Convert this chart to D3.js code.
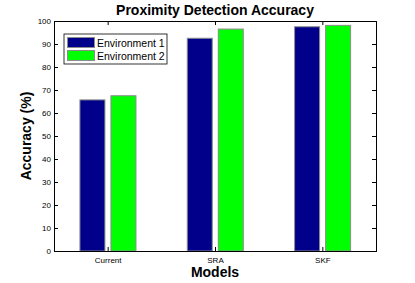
<!DOCTYPE html>
<html>
<head>
<meta charset="utf-8">
<script src="https://d3js.org/d3.v7.min.js"></script>
<style>
  body { margin: 0; background: #fff; }
  text { font-family: "Liberation Sans", Arial, sans-serif; }
</style>
</head>
<body>
<div id="chart"></div>
<script>
var svgWidth = 415;
var svgHeight = 283;

var margin = { top: 21, right: 39, bottom: 32, left: 54 };
var chartWidth = svgWidth - margin.left - margin.right;
var chartHeight = svgHeight - margin.top - margin.bottom;

// data
var models = ["Current", "SRA", "SKF"];
var seriesNames = ["Environment 1", "Environment 2"];
var env1 = [65.7, 92.5, 97.5];
var env2 = [67.5, 96.5, 98.1];
var yTicks = [0, 10, 20, 30, 40, 50, 60, 70, 80, 90, 100];
var colors = ["#00008b", "#00ff00"];

var svg = d3.select("#chart")
  .append("svg")
  .attr("width", svgWidth)
  .attr("height", svgHeight);

var chartGroup = svg.append("g")
  .attr("transform", `translate(${margin.left}, ${margin.top})`);

var xScale = d3.scaleLinear()
  .domain([0.5, models.length + 0.5])
  .range([0, chartWidth]);

var yScale = d3.scaleLinear()
  .domain([0, 100])
  .range([chartHeight, 0]);

// bars
var barW = 0.233;
var offsets = [-0.142, 0.147];
[env1, env2].forEach(function(vals, s) {
  chartGroup.append("g")
    .selectAll("rect")
    .data(vals)
    .enter()
    .append("rect")
    .attr("x", (d, i) => xScale(i + 1 + offsets[s] - barW / 2))
    .attr("y", d => yScale(d))
    .attr("width", xScale(barW) - xScale(0))
    .attr("height", d => chartHeight - yScale(d))
    .attr("fill", colors[s])
    .attr("stroke", "#8c8c8c")
    .attr("stroke-width", 1);
});

// axes, matlab style box with inward ticks
var leftAxis = d3.axisLeft(yScale).tickValues(yTicks).tickSize(-4).tickPadding(3);
var rightAxis = d3.axisRight(yScale).tickValues(yTicks).tickSize(-4).tickFormat("");
var bottomAxis = d3.axisBottom(xScale).tickValues([1, 2, 3]).tickSize(-4).tickPadding(6)
  .tickFormat(d => models[d - 1]);
var topAxis = d3.axisTop(xScale).tickValues([1, 2, 3]).tickSize(-4).tickFormat("");

var yAxis = chartGroup.append("g").call(leftAxis);
chartGroup.append("g").attr("transform", `translate(${chartWidth}, 0)`).call(rightAxis);
var xAxis = chartGroup.append("g").attr("transform", `translate(0, ${chartHeight})`).call(bottomAxis);
chartGroup.append("g").call(topAxis);

chartGroup.selectAll(".domain").attr("stroke", "#000");
chartGroup.selectAll(".tick line").attr("stroke", "#000");
chartGroup.selectAll(".tick text").attr("font-size", 8).attr("fill", "#000")
  .attr("font-family", "'Liberation Sans', Arial, sans-serif");

// titles
svg.append("text")
  .attr("x", margin.left + chartWidth / 2)
  .attr("y", 15)
  .attr("text-anchor", "middle")
  .attr("font-size", 14)
  .attr("font-weight", "bold")
  .text("Proximity Detection Accuracy");

svg.append("text")
  .attr("x", margin.left + chartWidth / 2)
  .attr("y", 277)
  .attr("text-anchor", "middle")
  .attr("font-size", 14)
  .attr("font-weight", "bold")
  .text("Models");

svg.append("text")
  .attr("transform", `translate(31, ${margin.top + chartHeight / 2}) rotate(-90)`)
  .attr("text-anchor", "middle")
  .attr("font-size", 14)
  .attr("font-weight", "bold")
  .text("Accuracy (%)");

// legend
var legend = svg.append("g").attr("transform", "translate(64, 34)");
legend.append("rect")
  .attr("width", 103)
  .attr("height", 30)
  .attr("fill", "#fff")
  .attr("stroke", "#000")
  .attr("stroke-width", 0.8);

seriesNames.forEach(function(name, i) {
  legend.append("rect")
    .attr("x", 3.5)
    .attr("y", 3.5 + i * 13)
    .attr("width", 27)
    .attr("height", 10)
    .attr("fill", colors[i])
    .attr("stroke", "#8c8c8c");
  legend.append("text")
    .attr("x", 33)
    .attr("y", 12.5 + i * 13)
    .attr("font-size", 10.5)
    .text(name);
});
</script>
</body>
</html>
